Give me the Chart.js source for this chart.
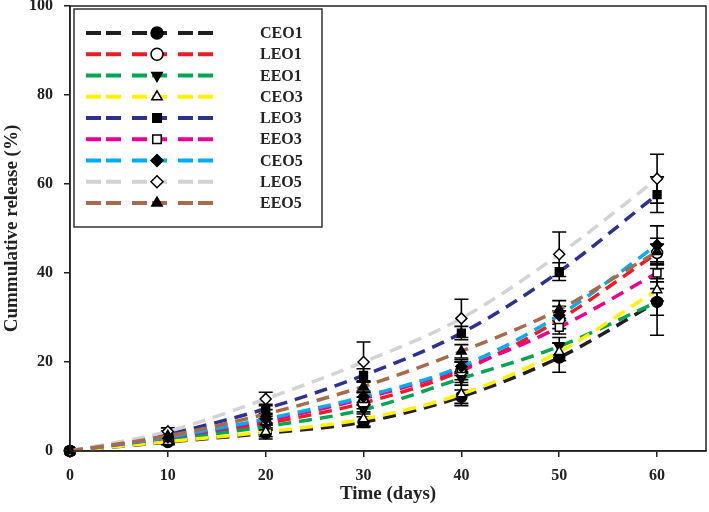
<!DOCTYPE html>
<html><head><meta charset="utf-8">
<script src="https://cdn.jsdelivr.net/npm/chart.js@4/dist/chart.umd.min.js"></script>
<style>html,body{margin:0;padding:0;background:#fff;}</style>
</head><body>
<canvas id="c" width="709" height="512"></canvas>
<script>
const days = [0, 10, 20, 30, 40, 50, 60];
const xTickValues = [0, 10, 20, 30, 40, 50, 60];
const yTickValues = [0, 20, 40, 60, 80, 100];
const seriesNames = ['CEO1', 'LEO1', 'EEO1', 'CEO3', 'LEO3', 'EEO3', 'CEO5', 'LEO5', 'EEO5'];

const CEO1 = [0, 2.0, 4.0, 6.5, 12.2, 21.0, 33.5];
const LEO1 = [0, 2.8, 6.2, 10.8, 18.0, 29.5, 44.5];
const EEO1 = [0, 2.5, 5.5, 9.3, 16.3, 23.5, 33.5];
const CEO3 = [0, 2.1, 4.3, 7.2, 12.8, 22.3, 36.2];
const LEO3 = [0, 3.8, 9.5, 17.0, 26.5, 40.3, 57.6];
const EEO3 = [0, 3.0, 6.8, 11.8, 18.5, 27.8, 40.0];
const CEO5 = [0, 3.1, 7.2, 12.2, 19.0, 30.5, 46.3];
const LEO5 = [0, 4.4, 11.7, 20.0, 29.8, 44.2, 61.2];
const EEO5 = [0, 3.4, 8.3, 14.5, 22.4, 31.8, 44.8];

const errCEO1 = [0, 0.6, 0.8, 1.2, 1.5, 3.3, 7.5];
const errLEO1 = [0, 0.6, 1.0, 1.3, 2.0, 2.0, 2.0];
const errEEO1 = [0, 0.5, 0.8, 1.0, 1.5, 2.0, 3.0];
const errCEO3 = [0, 0.5, 1.6, 1.6, 2.6, 2.0, 2.5];
const errLEO3 = [0, 0.7, 1.0, 1.5, 1.5, 2.0, 4.0];
const errEEO3 = [0, 0.6, 1.0, 1.3, 1.5, 1.5, 2.0];
const errCEO5 = [0, 0.6, 1.0, 1.3, 1.5, 2.0, 4.3];
const errLEO5 = [0, 0.8, 1.5, 4.5, 4.3, 5.0, 5.5];
const errEEO5 = [0, 0.6, 1.0, 1.3, 1.5, 2.0, 3.0];

const values = [CEO1, LEO1, EEO1, CEO3, LEO3, EEO3, CEO5, LEO5, EEO5];
const errors = [errCEO1, errLEO1, errEEO1, errCEO3, errLEO3, errEEO3, errCEO5, errLEO5, errEEO5];
const colors = ['#231f20', '#ed1c24', '#00a651', '#fff200', '#2e3192', '#ec008c', '#00aeef', '#d1d3d4', '#a8694c'];
const styles = [
  {s: 'circle', r: 0, fill: true},
  {s: 'circle', r: 0, fill: false},
  {s: 'triangle', r: 180, fill: true},
  {s: 'triangle', r: 0, fill: false},
  {s: 'rect', r: 0, fill: true},
  {s: 'rect', r: 0, fill: false},
  {s: 'rectRot', r: 0, fill: true},
  {s: 'rectRot', r: 0, fill: false},
  {s: 'triangle', r: 0, fill: true}
];

const FONT = "'Liberation Serif', 'Times New Roman', serif";

const datasets = seriesNames.map((n, i) => ({
  label: n,
  order: seriesNames.length - i,
  data: days.map((d, j) => ({x: d, y: values[i][j]})),
  errs: errors[i],
  borderColor: colors[i],
  borderWidth: 3.5,
  borderDash: [13, 8],
  cubicInterpolationMode: 'monotone',
  pointStyle: styles[i].s,
  rotation: styles[i].r,
  pointRadius: 5.5,
  pointBorderWidth: 1.5,
  pointBorderColor: '#000',
  pointBackgroundColor: styles[i].fill ? '#000' : '#fff',
  clip: false
}));

const errorBars = {
  id: 'errorBars',
  beforeDatasetsDraw(chart) {
    const ctx = chart.ctx, xs = chart.scales.x, ys = chart.scales.y;
    ctx.save();
    ctx.strokeStyle = '#000';
    ctx.lineWidth = 1.6;
    chart.data.datasets.forEach(ds => {
      ds.data.forEach((p, j) => {
        const e = ds.errs[j];
        if (!e) return;
        const x = xs.getPixelForValue(p.x);
        const y1 = ys.getPixelForValue(p.y + e), y2 = ys.getPixelForValue(p.y - e);
        ctx.beginPath();
        ctx.moveTo(x, y1); ctx.lineTo(x, y2);
        ctx.moveTo(x - 7, y1); ctx.lineTo(x + 7, y1);
        ctx.moveTo(x - 7, y2); ctx.lineTo(x + 7, y2);
        ctx.stroke();
      });
    });
    ctx.restore();
  }
};

const frameAndLegend = {
  id: 'frameAndLegend',
  afterDraw(chart) {
    const ctx = chart.ctx, a = chart.chartArea;
    ctx.save();
    ctx.strokeStyle = '#222';
    ctx.lineWidth = 1.5;
    ctx.strokeRect(a.left, a.top, a.right - a.left, a.bottom - a.top);
    // legend box
    const bx = a.left + 4, by = a.top + 3, bw = 248, bh = 218;
    ctx.fillStyle = '#fff';
    ctx.fillRect(bx, by, bw, bh);
    ctx.strokeStyle = '#333';
    ctx.lineWidth = 1.5;
    ctx.strokeRect(bx, by, bw, bh);
    chart.data.datasets.forEach((ds, i) => {
      const y = by + 24 + i * 21.25;
      ctx.save();
      ctx.strokeStyle = ds.borderColor;
      ctx.lineWidth = 4;
      ctx.setLineDash([15, 5, 15, 11]);
      ctx.beginPath();
      ctx.moveTo(bx + 12, y); ctx.lineTo(bx + 139, y);
      ctx.stroke();
      ctx.restore();
      ctx.fillStyle = ds.pointBackgroundColor;
      ctx.strokeStyle = '#000';
      ctx.lineWidth = 1.5;
      Chart.helpers.drawPoint(ctx, {pointStyle: ds.pointStyle, rotation: ds.rotation, radius: 6, borderWidth: 1.5}, bx + 83, y);
      ctx.fillStyle = '#222';
      ctx.font = 'bold 16px ' + FONT;
      ctx.textBaseline = 'middle';
      ctx.textAlign = 'left';
      ctx.fillText(ds.label, bx + 186, y + 1);
    });
    ctx.restore();
  }
};

function noPad(s) { s.paddingTop = 0; s.paddingBottom = 0; s.paddingLeft = 0; s.paddingRight = 0; }

new Chart(document.getElementById('c'), {
  type: 'line',
  data: {datasets},
  plugins: [errorBars, frameAndLegend],
  options: {
    responsive: false,
    animation: false,
    layout: {autoPadding: false, padding: {left: 0, top: 6, right: 3, bottom: 0}},
    plugins: {legend: {display: false}, tooltip: {enabled: false}},
    scales: {
      x: {
        type: 'linear',
        min: 0, max: 65,
        afterFit(s) { s.height = 61; noPad(s); },
        afterBuildTicks(s) { s.ticks = xTickValues.map(v => ({value: v})); },
        grid: {display: true, drawOnChartArea: false, drawTicks: true, tickLength: 6, color: '#222', lineWidth: 1.5},
        border: {display: true, color: '#222', width: 1.5},
        ticks: {color: '#222', padding: 9, font: {family: FONT, size: 16, weight: 'bold'}},
        title: {display: true, text: 'Time (days)', color: '#222', padding: {top: 0, bottom: 7}, font: {family: FONT, size: 19, weight: 'bold'}}
      },
      y: {
        type: 'linear',
        min: 0, max: 100,
        afterFit(s) { s.width = 70; noPad(s); },
        afterBuildTicks(s) { s.ticks = yTickValues.map(v => ({value: v})); },
        grid: {display: true, drawOnChartArea: false, drawTicks: true, tickLength: 6, color: '#222', lineWidth: 1.5},
        border: {display: true, color: '#222', width: 1.5},
        ticks: {color: '#222', padding: 11, font: {family: FONT, size: 16, weight: 'bold'}},
        title: {display: true, text: 'Cummulative release (%)', color: '#222', padding: {top: 1, bottom: 0}, font: {family: FONT, size: 19, weight: 'bold'}}
      }
    }
  }
});
</script>
</body></html>
